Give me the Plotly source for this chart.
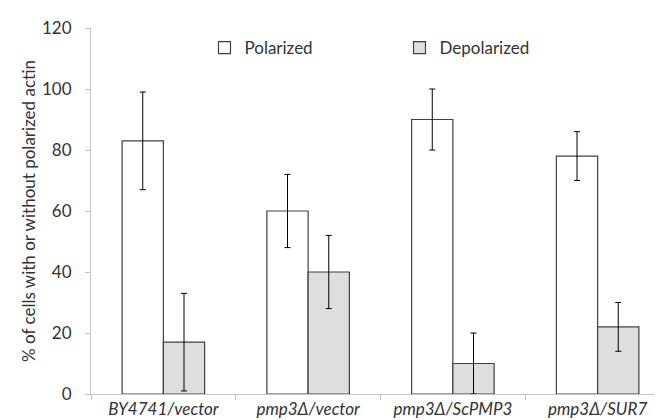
import plotly.graph_objects as go

categories = ["BY4741/vector", "pmp3Δ/vector", "pmp3Δ/ScPMP3", "pmp3Δ/SUR7"]
polarized = [83, 60, 90, 78]
polarized_err = [16, 12, 10, 8]
depolarized = [17, 40, 10, 22]
depolarized_err = [16, 12, 10, 8]
y_ticks = [0, 20, 40, 60, 80, 100, 120]

font = "Lato, 'Open Sans', sans-serif"
text_color = "#333333"

fig = go.Figure()
fig.add_trace(go.Bar(
    name="Polarized", x=categories, y=polarized,
    marker=dict(color="white", line=dict(color="#404040", width=1.2)),
    error_y=dict(type="data", array=polarized_err, color="black", thickness=1, width=3),
))
fig.add_trace(go.Bar(
    name="Depolarized", x=categories, y=depolarized,
    marker=dict(color="#dedede", line=dict(color="#404040", width=1.2)),
    error_y=dict(type="data", array=depolarized_err, color="black", thickness=1, width=3),
))

fig.update_layout(
    width=662, height=420,
    margin=dict(l=83, r=0, t=20, b=34),
    paper_bgcolor="white", plot_bgcolor="white",
    barmode="group", bargap=0.43, bargroupgap=0,
    font=dict(family=font, color=text_color, size=16),
    showlegend=True,
    legend=dict(
        orientation="h", x=0.196, y=0.945, xanchor="left", yanchor="middle",
        bgcolor="rgba(0,0,0,0)", font=dict(size=17, color=text_color),
        entrywidth=150, entrywidthmode="pixels",
    ),
    xaxis=dict(
        type="category", tickmode="array", tickvals=categories,
        ticktext=["<i>%s</i>" % c for c in categories],
        showline=True, linecolor="#c4c4c4", linewidth=1,
        ticks="outside", tickson="boundaries", ticklen=5, tickcolor="#c4c4c4",
        ticklabelstandoff=0,
        tickfont=dict(size=17, color=text_color), showgrid=False,
    ),
    yaxis=dict(
        range=[0, 120], tickmode="array", tickvals=y_ticks,
        showline=True, linecolor="#c4c4c4", linewidth=1,
        ticks="outside", ticklen=5, tickcolor="#c4c4c4",
        ticklabelstandoff=10,
        tickfont=dict(size=17, color=text_color), showgrid=False, zeroline=False,
        title=dict(text="% of cells with or without polarized actin",
                   font=dict(size=17, color=text_color), standoff=2),
    ),
)

fig.write_html("out.html")
